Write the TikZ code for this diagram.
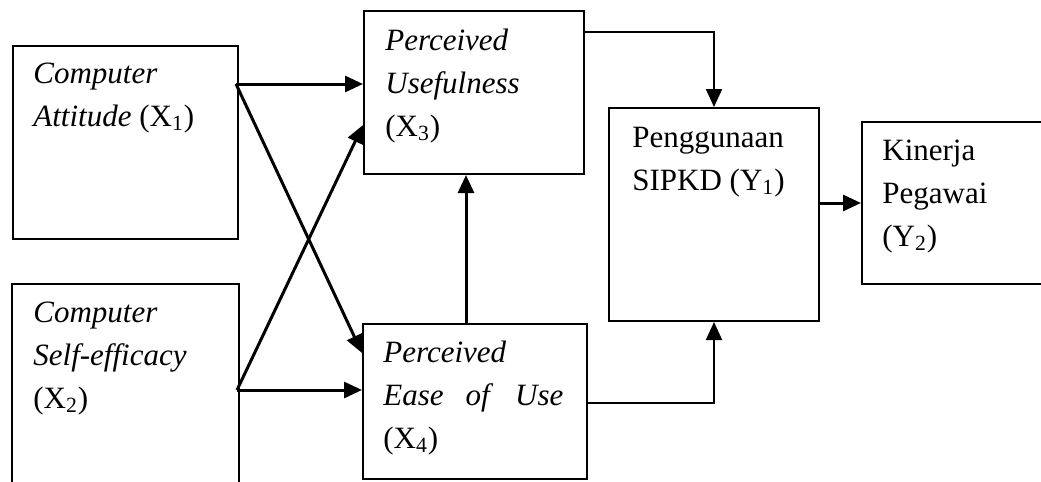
\documentclass[tikz,border=0pt]{standalone}
\usepackage{fontspec}
\setmainfont{Liberation Serif}[ItalicFont=Liberation Serif Italic]
\usetikzlibrary{arrows.meta}
\begin{document}
\begin{tikzpicture}[x=0.5pt,y=-0.5pt,
box/.style={draw,line width=1pt,anchor=north west,inner sep=0pt},
txt/.style={anchor=north west,inner sep=0pt,align=left,font=\fontsize{15.5}{21.5}\selectfont},
arr/.style={line width=1.5pt,-{Triangle[length=9pt,width=8pt]}},
elb/.style={line width=1pt,-{Triangle[length=9pt,width=8pt]}}]
\useasboundingbox(0,0)rectangle(1041,482);
\node[box,minimum width=112.5pt,minimum height=96.5pt](x1)at(12,45){};
\node[box,minimum width=113.5pt,minimum height=108.5pt](x2)at(11,283){};
\node[box,minimum width=110pt,minimum height=81.5pt](x3)at(363,10){};
\node[box,minimum width=112pt,minimum height=77.5pt](x4)at(362,323){};
\node[box,minimum width=105pt,minimum height=106.5pt](y1)at(608,107){};
\node[box,minimum width=100pt,minimum height=81pt](y2)at(861,121){};
\node[txt](t1)at(33,53){\strut\textit{Computer}\\\textit{Attitude} (X\textsubscript{1})};
\node[txt](t2)at(33,292){\strut\textit{Computer}\\\textit{Self-efficacy}\\(X\textsubscript{2})};
\node[txt](t3)at(385,20){\strut\textit{Perceived}\\\textit{Usefulness}\\(X\textsubscript{3})};
\node[txt](t4)at(383,332){\strut\textit{Perceived}\\\hbox to 90pt{\textit{Ease}\hfill\textit{of}\hfill\textit{Use}}\\(X\textsubscript{4})};
\node[txt](t5)at(632,117){\strut Penggunaan\\SIPKD (Y\textsubscript{1})};
\node[txt](t6)at(882,130){\strut Kinerja\\Pegawai\\(Y\textsubscript{2})};
\coordinate(a1)at(236,84);
\coordinate(a2)at(237,390);
\draw[arr](a1)--(a1-|x3.west);
\draw[arr](a1)--(x4.west|-0,353);
\draw[arr](a2)--(a2-|x4.west);
\draw[arr](a2)--(x3.west|-0,125);
\draw[arr](x4.north-|466,0)--(x3.south-|466,0);
\draw[elb](x3.east|-0,32)-|(y1.north);
\draw[elb](x4.east|-0,403)-|(y1.south);
\draw[arr](y1.east|-y2.west)--(y2.west);
\end{tikzpicture}
\end{document}
